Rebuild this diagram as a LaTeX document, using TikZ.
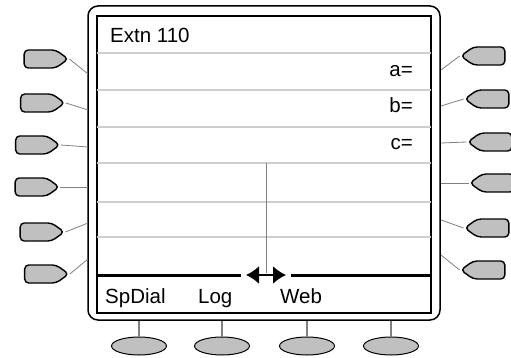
\documentclass[tikz,border=0pt]{standalone}
\usepackage{fontspec}
\setmainfont{Liberation Sans}
\usetikzlibrary{shapes.symbols, shapes.geometric, arrows.meta}

\definecolor{keygray}{RGB}{192,192,192}
\definecolor{rulegray}{RGB}{205,205,205}
\definecolor{wiregray}{RGB}{128,128,128}

\tikzstyle{lkey}=[signal, signal to=east, signal pointer angle=72, rounded corners=4pt, draw, line width=1.4pt, fill=keygray, minimum width=44pt, minimum height=18pt, inner sep=0pt]
\tikzstyle{rkey}=[lkey, signal to=west]
\tikzstyle{softkey}=[ellipse, draw, line width=1pt, fill=keygray, minimum width=55pt, minimum height=18pt, inner sep=0pt]
\tikzstyle{wire}=[wiregray, line width=0.8pt]
\tikzstyle{stem}=[wiregray, line width=2.2pt]
\tikzstyle{row}=[rulegray, line width=1.2pt]
\tikzstyle{lbl}=[inner sep=0pt, font=\fontsize{20.5}{24}\selectfont]

\begin{document}
\begin{tikzpicture}[x=1pt, y=-1pt]
      \useasboundingbox (0,0) rectangle (511,358);
      \node[draw, line width=1.5pt, rounded corners=10pt, minimum width=352pt, minimum height=314pt] (case) at (264,163) {};
      \node[draw, line width=1.5pt, minimum width=334pt, minimum height=297pt] (screen) at (264,164.5) {};
      \draw[row] (97,53)  -- (431,53);
      \draw[row] (97,90)  -- (431,90);
      \draw[row] (97,127) -- (431,127);
      \draw[row] (97,163) -- (431,163);
      \draw[row] (97,202) -- (431,202);
      \draw[row] (97,237) -- (431,237);
      \draw[line width=3pt] (screen.west |- 0,275) -- (241,275);
      \draw[line width=3pt] (291,275) -- (screen.east |- 0,275);
      \draw[wiregray, line width=1pt] (266,163) -- (266,273);
      \coordinate (al) at (246,275);
      \coordinate (ar) at (286,275);
      \draw[line width=2pt, {Latex[length=13pt,width=18pt]}-{Latex[length=13pt,width=18pt]}] (al) -- (ar);
      \node[lbl, anchor=base west] (title) at (110,43)  {Extn 110};
      \node[lbl, anchor=base east] (a)     at (413,77)  {a=};
      \node[lbl, anchor=base east] (b)     at (413,113) {b=};
      \node[lbl, anchor=base east] (c)     at (413,150) {c=};
      \node[lbl, anchor=base west] (spd)   at (105,303) {SpDial};
      \node[lbl, anchor=base west] (log)   at (198,303) {Log};
      \node[lbl, anchor=base west] (web)   at (280,303) {Web};
      \node[lkey] (l1) at (40,59)    {};
      \node[lkey] (l2) at (36.5,103) {};
      \node[lkey] (l3) at (31.5,145) {};
      \node[lkey] (l4) at (31,187)   {};
      \node[lkey] (l5) at (36,232)   {};
      \node[lkey] (l6) at (40.5,274) {};
      \node[rkey] (r1) at (489,56)  {};
      \node[rkey] (r2) at (493,99)  {};
      \node[rkey] (r3) at (496,142) {};
      \node[rkey] (r4) at (498,183) {};
      \node[rkey] (r5) at (493,228) {};
      \node[rkey] (r6) at (489,270) {};
      \coordinate (fl1) at (88,74);
      \coordinate (fl2) at (88,110);
      \coordinate (fl3) at (88,147);
      \coordinate (fl4) at (88,187);
      \coordinate (fl5) at (88,223);
      \coordinate (fl6) at (88,259);
      \coordinate (fr1) at (441,70);
      \coordinate (fr2) at (441,106);
      \coordinate (fr3) at (441,143);
      \coordinate (fr4) at (441,183);
      \coordinate (fr5) at (441,220);
      \coordinate (fr6) at (441,255);
      \draw[wire] (l1.east) -- (fl1);
      \draw[wire] (l2.east) -- (fl2);
      \draw[wire] (l3.east) -- (fl3);
      \draw[wire] (l4.east) -- (fl4);
      \draw[wire] (l5.east) -- (fl5);
      \draw[wire] (l6.east) -- (fl6);
      \draw[wire] (r1.west) -- (fr1);
      \draw[wire] (r2.west) -- (fr2);
      \draw[wire] (r3.west) -- (fr3);
      \draw[wire] (r4.west) -- (fr4);
      \draw[wire] (r5.west) -- (fr5);
      \draw[wire] (r6.west) -- (fr6);
      \node[softkey] (s1) at (139,346) {};
      \node[softkey] (s2) at (222,346) {};
      \node[softkey] (s3) at (307,346) {};
      \node[softkey] (s4) at (391,346) {};
      \draw[stem] (s1.north) -- (s1.north |- case.south);
      \draw[stem] (s2.north) -- (s2.north |- case.south);
      \draw[stem] (s3.north) -- (s3.north |- case.south);
      \draw[stem] (s4.north) -- (s4.north |- case.south);
    \end{tikzpicture}
\end{document}
